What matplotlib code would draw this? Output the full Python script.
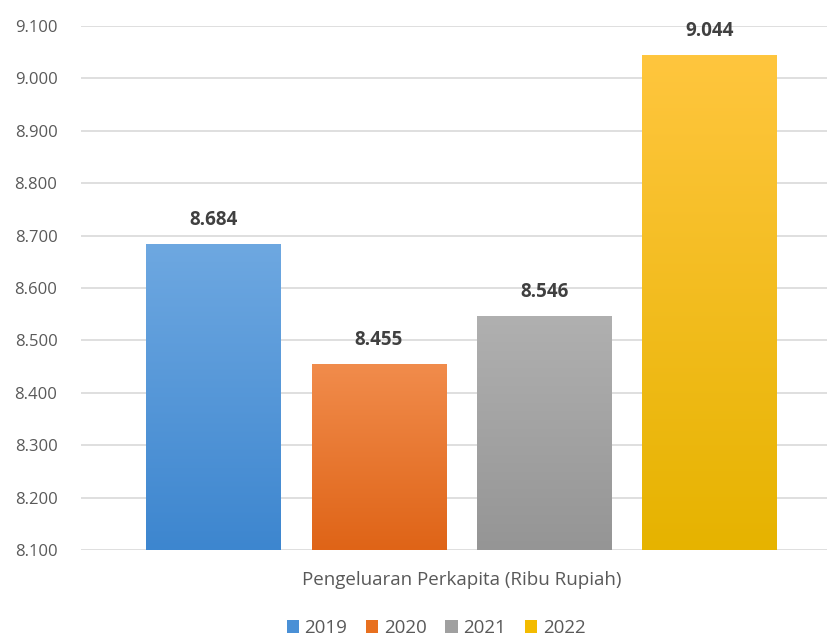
import numpy as np
import matplotlib
matplotlib.use('Agg')
import matplotlib.pyplot as plt
from matplotlib.colors import LinearSegmentedColormap
from matplotlib.patches import Patch

# data
years = ['2019', '2020', '2021', '2022']
values = [8684, 8455, 8546, 9044]
category = 'Pengeluaran Perkapita (Ribu Rupiah)'
yticks = [8100, 8200, 8300, 8400, 8500, 8600, 8700, 8800, 8900, 9000, 9100]

# gradient colours (top, bottom) per year
top_colors = ['#6ea8e1', '#f18c4c', '#b0b0b0', '#ffc63e']
bottom_colors = ['#3d86cf', '#df6417', '#959595', '#e6b300']
legend_colors = ['#4a90d6', '#e8701f', '#a0a0a0', '#f3bb00']

plt.rcParams['font.family'] = ['Open Sans', 'DejaVu Sans']

fig = plt.figure(figsize=(8.28, 6.37), dpi=100)
ax = fig.add_axes([81 / 828, 87 / 637, 761 / 828, 524 / 637])

x = np.arange(len(years))
width = 0.812
bars = ax.bar(x, values, width=width, bottom=0, color='none', zorder=2)

ymin, ymax = 8100, 9100
# fill each bar with a vertical gradient clipped to the bar shape
for b, c_top, c_bot in zip(bars, top_colors, bottom_colors):
    cmap = LinearSegmentedColormap.from_list('g', [c_bot, c_top])
    grad = np.linspace(0, 1, 256).reshape(-1, 1)
    x0 = b.get_x()
    img = ax.imshow(grad, cmap=cmap, aspect='auto', origin='lower',
                    extent=[x0, x0 + b.get_width(), ymin, b.get_height()],
                    zorder=2)
    img.set_clip_path(b)

for xi, v in zip(x, values):
    ax.text(xi, v + 27, f'{v:,}'.replace(',', '.'), ha='center', va='bottom',
            fontsize=13.5, fontweight='bold', color='#404040')

ax.set_xlim(-0.8, 3.8)
ax.set_ylim(ymin, ymax)
ax.set_yticks(yticks)
ax.set_yticklabels([f'{t:,}'.replace(',', '.') for t in yticks])
ax.tick_params(axis='y', length=0, labelsize=12, colors='#595959', pad=17)
ax.set_xticks([])
ax.grid(axis='y', color='#d9d9d9', linewidth=1.2, zorder=0)
ax.set_axisbelow(True)
for s in ax.spines.values():
    s.set_visible(False)

fig.text(461.5 / 828, 1 - 580 / 637, category, ha='center', va='center',
         fontsize=13.5, color='#595959')

handles = [Patch(facecolor=c, edgecolor='none') for c in legend_colors]
fig.legend(handles, years, loc='center', bbox_to_anchor=(436 / 828, 1 - 628 / 637),
           ncol=4, frameon=False, fontsize=13.5, handlelength=0.65, handleheight=0.65,
           handletextpad=0.3, columnspacing=1.0, labelcolor='#595959')

fig.savefig('out.png', dpi=100)
